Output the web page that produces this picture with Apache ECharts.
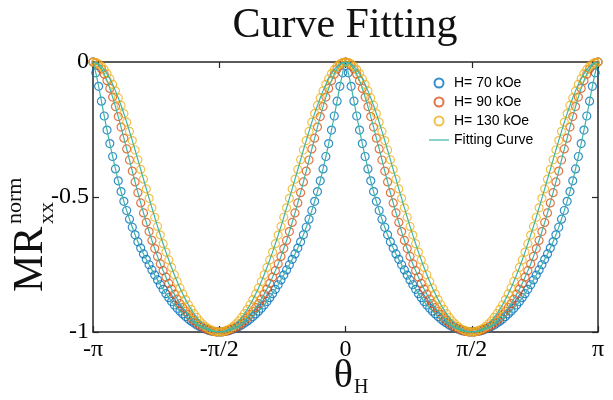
<!DOCTYPE html>
<html>
<head>
<meta charset="utf-8">
<script src="https://cdn.jsdelivr.net/npm/echarts@6/dist/echarts.min.js"></script>
<style>
  html, body { margin: 0; background: #fff; }
  #chart { width: 613px; height: 400px; }
</style>
</head>
<body>
<div id="chart"></div>
<script>
// values for one quarter period:
// distance from the nearest maximum 0, 2, 4 ... 90 degrees
const h70 = [0, -0.040, -0.090, -0.145, -0.200, -0.252, -0.302, -0.350, -0.396, -0.440,
  -0.480, -0.516, -0.550, -0.582, -0.612, -0.640, -0.666, -0.689, -0.711, -0.731,
  -0.751, -0.770, -0.789, -0.807, -0.825, -0.842, -0.858, -0.873, -0.887, -0.900,
  -0.912, -0.923, -0.933, -0.943, -0.952, -0.960, -0.967, -0.974, -0.980, -0.985,
  -0.989, -0.993, -0.996, -0.998, -0.9995, -1.0];
const h90 = [0, -0.003, -0.012, -0.026, -0.045, -0.069, -0.098, -0.130, -0.165, -0.202,
  -0.241, -0.282, -0.322, -0.363, -0.404, -0.444, -0.484, -0.522, -0.559, -0.594,
  -0.628, -0.661, -0.691, -0.720, -0.748, -0.773, -0.797, -0.820, -0.841, -0.860,
  -0.878, -0.895, -0.910, -0.924, -0.936, -0.948, -0.958, -0.967, -0.975, -0.982,
  -0.987, -0.992, -0.995, -0.998, -1.0, -1.0];
const h130 = [0, -0.002, -0.007, -0.016, -0.028, -0.043, -0.062, -0.083, -0.107, -0.133,
  -0.161, -0.191, -0.223, -0.257, -0.291, -0.326, -0.362, -0.398, -0.434, -0.470,
  -0.505, -0.540, -0.575, -0.609, -0.641, -0.673, -0.704, -0.733, -0.761, -0.788,
  -0.813, -0.837, -0.859, -0.880, -0.899, -0.916, -0.932, -0.946, -0.959, -0.970,
  -0.979, -0.987, -0.992, -0.997, -0.999, -1.0];

const stepDeg = 2;
const xTickLabels = { '-180': '-π', '-90': '-π/2', '0': '0', '90': 'π/2', '180': 'π' };
const seriesNames = ['H= 70 kOe', 'H= 90 kOe', 'H= 130 kOe'];
const seriesColors = ['#0072BD', '#D95319', '#EDB120'];
const fitColor = '#3FB6A3';

// the curve repeats every 180 deg and is mirror symmetric about each minimum
function unfold(quarter) {
  const out = [];
  for (let deg = -180; deg <= 180; deg += stepDeg) {
    const p = ((deg % 180) + 180) % 180;
    const d = Math.min(p, 180 - p);
    out.push([deg, quarter[d / stepDeg]]);
  }
  return out;
}

const datasets = [h70, h90, h130].map(unfold);

const chart = echarts.init(document.getElementById('chart'));

const axisLine = { show: true, onZero: false, lineStyle: { color: '#262626', width: 1.5 } };
const axisTick = { show: true, inside: true, length: 6, lineStyle: { color: '#262626', width: 1.2 } };
const serif = 'Liberation Serif';

const series = [];
datasets.forEach((d, i) => {
  series.push({
    name: seriesNames[i],
    type: 'scatter',
    data: d,
    symbol: 'circle',
    symbolSize: 8,
    itemStyle: { color: 'rgba(255,255,255,0)', borderColor: seriesColors[i], borderWidth: 1.2 },
    z: 2,
  });
});
datasets.forEach((d) => {
  series.push({
    name: 'Fitting Curve',
    type: 'line',
    data: d,
    symbol: 'none',
    smooth: true,
    lineStyle: { color: fitColor, width: 1.2 },
    itemStyle: { color: fitColor },
    z: 3,
  });
});

const option = {
  animation: false,
  backgroundColor: '#fff',
  grid: { left: 93, right: 15, top: 62, bottom: 68 },
  legend: {
    orient: 'vertical',
    left: 424,
    top: 71,
    itemWidth: 20,
    itemHeight: 9,
    itemGap: 5,
    selectedMode: false,
    textStyle: { fontFamily: 'Liberation Sans', fontSize: 14, color: '#000' },
    data: seriesNames.concat([{ name: 'Fitting Curve', icon: 'path://M0,0 L20,0 L20,1.2 L0,1.2 Z' }]),
  },
  xAxis: [
    {
      type: 'value', min: -180, max: 180, interval: 90, position: 'bottom',
      axisLine: axisLine, axisTick: axisTick,
      splitLine: { show: false },
      axisLabel: {
        formatter: (v) => xTickLabels[String(v)] || '',
        fontFamily: serif, fontSize: 24, color: '#000', margin: 6,
        showMinLabel: true, showMaxLabel: true,
      },
    },
    {
      type: 'value', min: -180, max: 180, interval: 90, position: 'top',
      axisLine: axisLine, axisTick: axisTick,
      splitLine: { show: false },
      axisLabel: { show: false },
    },
  ],
  yAxis: [
    {
      type: 'value', min: -1, max: 0, interval: 0.5, position: 'left',
      axisLine: axisLine, axisTick: axisTick,
      splitLine: { show: false },
      axisLabel: { fontFamily: serif, fontSize: 24, color: '#000', margin: 4 },
    },
    {
      type: 'value', min: -1, max: 0, interval: 0.5, position: 'right',
      axisLine: axisLine, axisTick: axisTick,
      splitLine: { show: false },
      axisLabel: { show: false },
    },
  ],
  graphic: [
    {
      type: 'text', x: 345, y: 5,
      style: { text: 'Curve Fitting', fontFamily: serif, fontSize: 42, fill: '#111', textAlign: 'center' },
    },
    {
      type: 'text', x: 353, y: 356,
      style: { text: 'θ', fontFamily: serif, fontSize: 40, fill: '#111', textAlign: 'right' },
    },
    {
      type: 'text', x: 354, y: 378,
      style: { text: 'H', fontFamily: serif, fontSize: 20, fill: '#111' },
    },
    {
      type: 'group', x: 52, y: 292, rotation: Math.PI / 2,
      children: [
        { type: 'text', x: 0, y: 0, style: { text: 'MR', fontFamily: serif, fontSize: 42, fill: '#111', textVerticalAlign: 'bottom' } },
        { type: 'text', x: 68, y: -26, style: { text: 'norm', fontFamily: serif, fontSize: 22, fill: '#111', textVerticalAlign: 'bottom' } },
        { type: 'text', x: 68, y: 6, style: { text: 'xx', fontFamily: serif, fontSize: 22, fill: '#111', textVerticalAlign: 'bottom' } },
      ],
    },
  ],
  series: series,
};

chart.setOption(option);
</script>
</body>
</html>
